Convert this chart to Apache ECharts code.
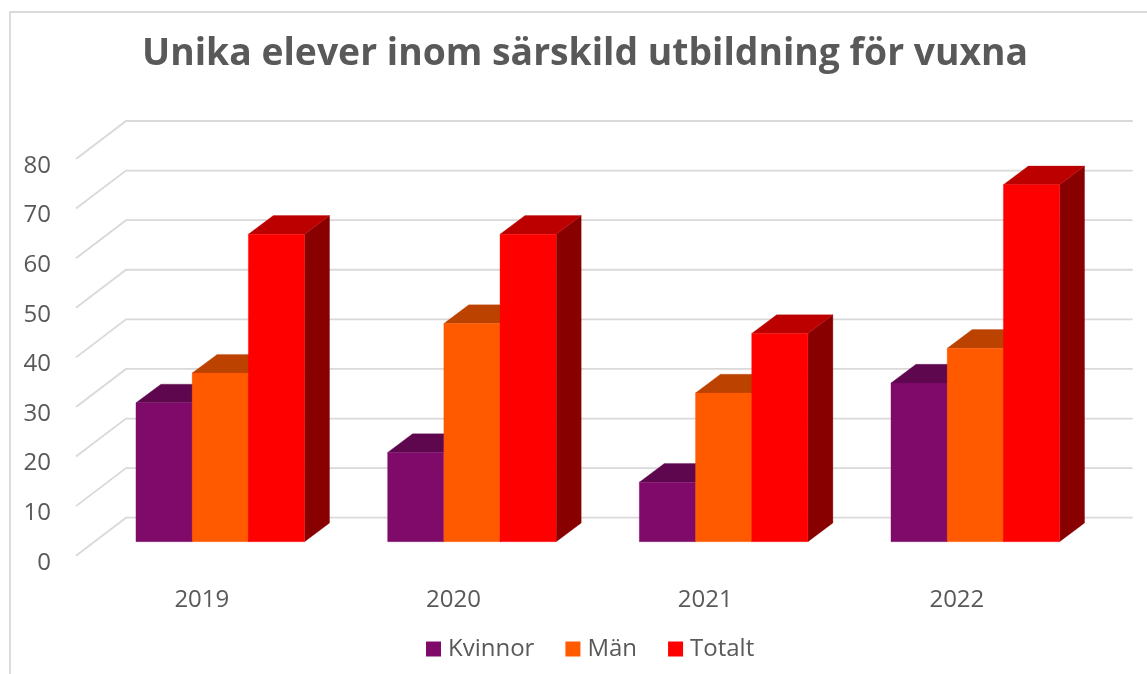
<!DOCTYPE html>
<html>
<head>
<meta charset="utf-8">
<title>Unika elever</title>
<script src="https://cdn.jsdelivr.net/npm/echarts@6/dist/echarts.min.js"></script>
<style>
  html, body { margin: 0; padding: 0; background: #fff; overflow: hidden; }
  #main { width: 1147px; height: 674px; }
</style>
</head>
<body>
<div id="main"></div>
<script>
var years = ['2019', '2020', '2021', '2022'];
var kvinnor = [28, 18, 12, 32];
var man = [34, 44, 30, 39];
var totalt = [62, 62, 42, 72];
var yTicks = [0, 10, 20, 30, 40, 50, 60, 70, 80];

// front, top and side colour of each box
var purple = ['#7f0a69', '#5e074e', '#4c063f'];
var orange = ['#ff5a00', '#bc4200', '#8a3100'];
var red = ['#ff0000', '#bc0000', '#880000'];

// the grid is the front edge of the floor, these push things backwards in it
var wallDx = 50, wallDy = -38;
var barDx = 18.4, barDy = -14;
var sideDx = 25, sideDy = -18.7;
var barShare = 0.2233;

function poly(points, color) {
  return { type: 'polygon', shape: { points: points }, style: { fill: color, stroke: color, lineWidth: 0.3 } };
}

function boxRenderer(slot, colors) {
  return function (params, api) {
    var top = api.coord([api.value(0), api.value(1)]);
    var base = api.coord([api.value(0), 0]);
    var w = api.size([1, 0])[0] * barShare;
    var x0 = top[0] + barDx + (slot - 1.5) * w;
    var x1 = x0 + w;
    var y0 = base[1] + barDy;
    var y1 = top[1] + barDy;
    return {
      type: 'group',
      children: [
        poly([[x1, y1], [x1 + sideDx, y1 + sideDy], [x1 + sideDx, y0 + sideDy], [x1, y0]], colors[2]),
        poly([[x0, y1], [x0 + sideDx, y1 + sideDy], [x1 + sideDx, y1 + sideDy], [x1, y1]], colors[1]),
        poly([[x0, y1], [x1, y1], [x1, y0], [x0, y0]], colors[0])
      ]
    };
  };
}

function wallRenderer(params, api) {
  var p = api.coord([0, api.value(1)]);
  var left = params.coordSys.x;
  var right = left + params.coordSys.width;
  return {
    type: 'polyline',
    shape: { points: [[left, p[1]], [left + wallDx, p[1] + wallDy], [right + wallDx, p[1] + wallDy]] },
    style: { fill: null, stroke: '#d9d9d9', lineWidth: 1.8 }
  };
}

function withIndex(values) {
  return values.map(function (v, i) { return [i, v]; });
}

function boxSeries(name, values, slot, colors) {
  return {
    name: name,
    type: 'custom',
    renderItem: boxRenderer(slot, colors),
    data: withIndex(values),
    encode: { x: 0, y: 1 },
    itemStyle: { color: colors[0] },
    z: 3
  };
}

var myChart = echarts.init(document.getElementById('main'), null, { renderer: 'canvas' });
var option = {
  animation: false,
  backgroundColor: '#fff',
  title: {
    text: 'Unika elever inom särskild utbildning för vuxna',
    left: 137,
    top: 31,
    textStyle: { fontFamily: 'Open Sans', fontWeight: 'bold', fontSize: 37.3, color: '#595959' }
  },
  legend: {
    data: ['Kvinnor', 'Män', 'Totalt'],
    left: 426,
    top: 637,
    padding: 0,
    icon: 'rect',
    itemWidth: 15,
    itemHeight: 15,
    itemGap: 31,
    textStyle: { fontFamily: 'Open Sans', fontSize: 24, color: '#595959', padding: [0, 0, 0, 2] }
  },
  // second grid only carries the value labels, they sit lower than the front edge
  grid: [
    { left: 76, top: 159, width: 1006.7, height: 396.7 },
    { left: 76, top: 166, width: 1006.7, height: 396.7 }
  ],
  xAxis: [
    {
      type: 'category',
      data: years,
      axisLine: { show: false },
      axisTick: { show: false },
      axisLabel: { fontFamily: 'Open Sans', fontSize: 24, color: '#595959', margin: 32 }
    },
    { type: 'category', gridIndex: 1, data: years, show: false }
  ],
  yAxis: [
    {
      type: 'value',
      min: 0,
      max: 80,
      interval: 10,
      axisLine: { show: false },
      axisTick: { show: false },
      splitLine: { show: false },
      axisLabel: { show: false }
    },
    {
      type: 'value',
      gridIndex: 1,
      min: 0,
      max: 80,
      interval: 10,
      axisLine: { show: false },
      axisTick: { show: false },
      splitLine: { show: false },
      axisLabel: { fontFamily: 'Open Sans', fontSize: 24, color: '#595959', margin: 25 }
    }
  ],
  graphic: [{
    type: 'rect',
    shape: { x: 10, y: 12, width: 1300, height: 800 },
    style: { fill: 'none', stroke: '#d9d9d9', lineWidth: 1.8 },
    z: 0
  }],
  series: [
    {
      type: 'custom',
      silent: true,
      renderItem: wallRenderer,
      data: yTicks.map(function (t) { return [0, t]; }),
      encode: { x: 0, y: 1 },
      z: 1
    },
    boxSeries('Kvinnor', kvinnor, 0, purple),
    boxSeries('Män', man, 1, orange),
    boxSeries('Totalt', totalt, 2, red)
  ]
};
myChart.setOption(option);
</script>
</body>
</html>
